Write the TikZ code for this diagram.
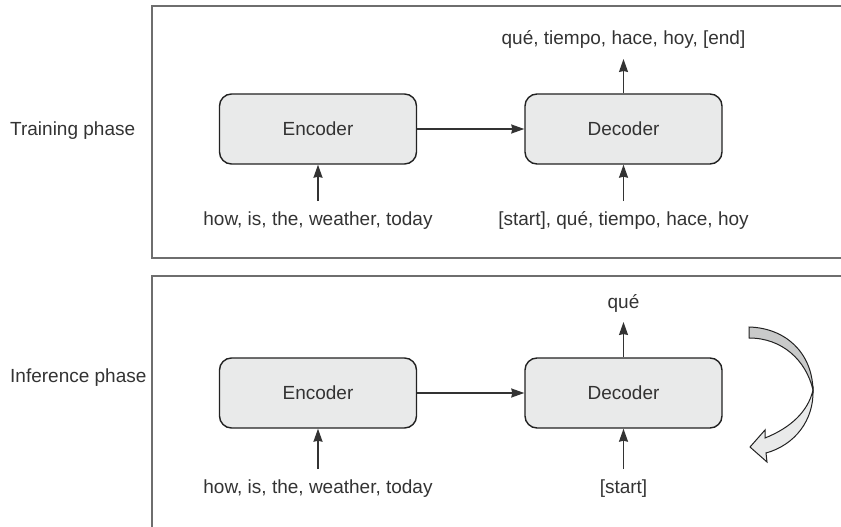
\documentclass[tikz,border=0pt]{standalone}
\usepackage{fontspec}
\setmainfont{Liberation Sans}
\usetikzlibrary{arrows.meta}
\definecolor{figInk}{HTML}{333333}
\definecolor{figEdge}{HTML}{222222}
\definecolor{figFrame}{HTML}{6E6E6E}
\definecolor{figFill}{HTML}{E9EAEA}
\definecolor{figShade}{HTML}{C9CACA}

\begin{document}
\begin{tikzpicture}[
  x=1pt, y=-1pt,
  every node/.style={font=\fontsize{19}{22}\selectfont, text=figInk},
  block/.style={rectangle, rounded corners=12pt, draw=figEdge, line width=1.4pt, fill=figFill,
    minimum width=197pt, minimum height=70pt},
  token/.style={inner sep=0pt, outer ysep=10pt, text height=14pt, text depth=4pt},
  phase/.style={anchor=west, inner sep=0pt},
  arrow/.style={-{Stealth[length=13pt, width=9pt, inset=1pt]}, line width=1.4pt, figInk},
  frame/.style={figFrame, line width=2pt},
]
\useasboundingbox (0,0) rectangle (841,527);

% === Training phase (top) ===
\draw[frame] (841,6) -- (152,6) -- (152,258) -- (841,258);
\node[phase] (train-label) at (10,131) {Training phase};

\node[block] (train-enc) at (318,129) {Encoder};
\node[block] (train-dec) at (623.5,129) {Decoder};

\node[token] (train-src) at (318,220) {how, is, the, weather, today};
\node[token] (train-tgt) at (623.5,220) {[start], qué, tiempo, hace, hoy};
\node[token] (train-out) at (623.5,40) {qué, tiempo, hace, hoy, [end]};

\draw[arrow] (train-enc) -- (train-dec);
\draw[arrow] (train-src) -- (train-enc);
\draw[arrow] (train-tgt) -- (train-dec);
\draw[arrow] (train-dec) -- (train-out);

% === Inference phase (bottom) ===
\draw[frame] (841,276) -- (152,276) -- (152,527);
\node[phase] (infer-label) at (10,378) {Inference phase};

\node[block] (infer-enc) at (318,393) {Encoder};
\node[block] (infer-dec) at (623.5,393) {Decoder};

\node[token] (infer-src) at (318,488) {how, is, the, weather, today};
\node[token] (infer-tgt) at (623.5,488) {[start]};
\node[token] (infer-out) at (623.5,303) {qué};

\draw[arrow] (infer-enc) -- (infer-dec);
\draw[arrow] (infer-src) -- (infer-enc);
\draw[arrow] (infer-tgt) -- (infer-dec);
\draw[arrow] (infer-dec) -- (infer-out);

% loop-back arrow
\filldraw[fill=figShade, draw=figEdge, line width=1pt]
  (749,327) .. controls (785,328) and (812,352) .. (813,390)
  .. controls (806,360) and (782,338) .. (749,338) -- cycle;
\filldraw[fill=figFill, draw=figEdge, line width=1pt]
  (813,390) .. controls (814,420) and (795,445) .. (766,453)
  -- (767,462) -- (750,447) -- (765,430) -- (765,438)
  .. controls (790,428) and (808,412) .. (813,390) -- cycle;
\end{tikzpicture}
\end{document}
